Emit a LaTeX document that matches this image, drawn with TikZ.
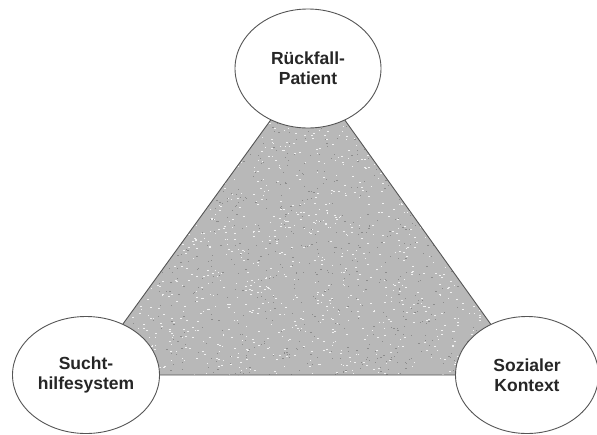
\documentclass[tikz,border=0pt]{standalone}
\usepackage{fontspec}
\setmainfont{Liberation Sans}
\usetikzlibrary{shapes.geometric}
\definecolor{linegray}{HTML}{555555}
\definecolor{fillgray}{HTML}{B8B8B8}
\tikzset{
  bubble/.style={ellipse, draw=linegray, line width=0.9pt, fill=white,
    inner sep=0pt, align=center, font=\bfseries\fontsize{17.5}{20}\selectfont,
    text=black!85},
  tri/.style={draw=linegray, line width=0.9pt, fill=fillgray}
}
\begin{document}
\begin{tikzpicture}[x=1pt,y=-1pt]
\useasboundingbox (0,0) rectangle (597,434);
\coordinate (t) at (308,68.5);
\coordinate (l) at (86,375);
\coordinate (r) at (527,375);
\fill[fillgray] (t) -- (l) -- (r) -- cycle;
\begin{scope}
  \clip (t) -- (l) -- (r) -- cycle;
  \pgfmathsetseed{7}
  \foreach \i in {1,...,1400}{
    \pgfmathsetmacro{\px}{86+441*rnd}
    \pgfmathsetmacro{\py}{100+275*rnd}
    \fill[white!80!fillgray] (\px,\py) rectangle ++(1.6,0.8);
  }
  \foreach \i in {1,...,1000}{
    \pgfmathsetmacro{\px}{86+441*rnd}
    \pgfmathsetmacro{\py}{100+275*rnd}
    \fill[black!45] (\px,\py) rectangle ++(1.2,0.8);
  }
\end{scope}
\draw[draw=linegray, line width=0.9pt] (t) -- (l) -- (r) -- cycle;
\node[bubble, minimum width=146pt, minimum height=119pt] (top) at (t) {Rückfall-\\Patient};
\node[bubble, minimum width=147pt, minimum height=117pt] (left) at (l) {Sucht-\\hilfesystem};
\node[bubble, minimum width=143pt, minimum height=117pt] (right) at (r) {Sozialer\\Kontext};
\end{tikzpicture}
\end{document}
